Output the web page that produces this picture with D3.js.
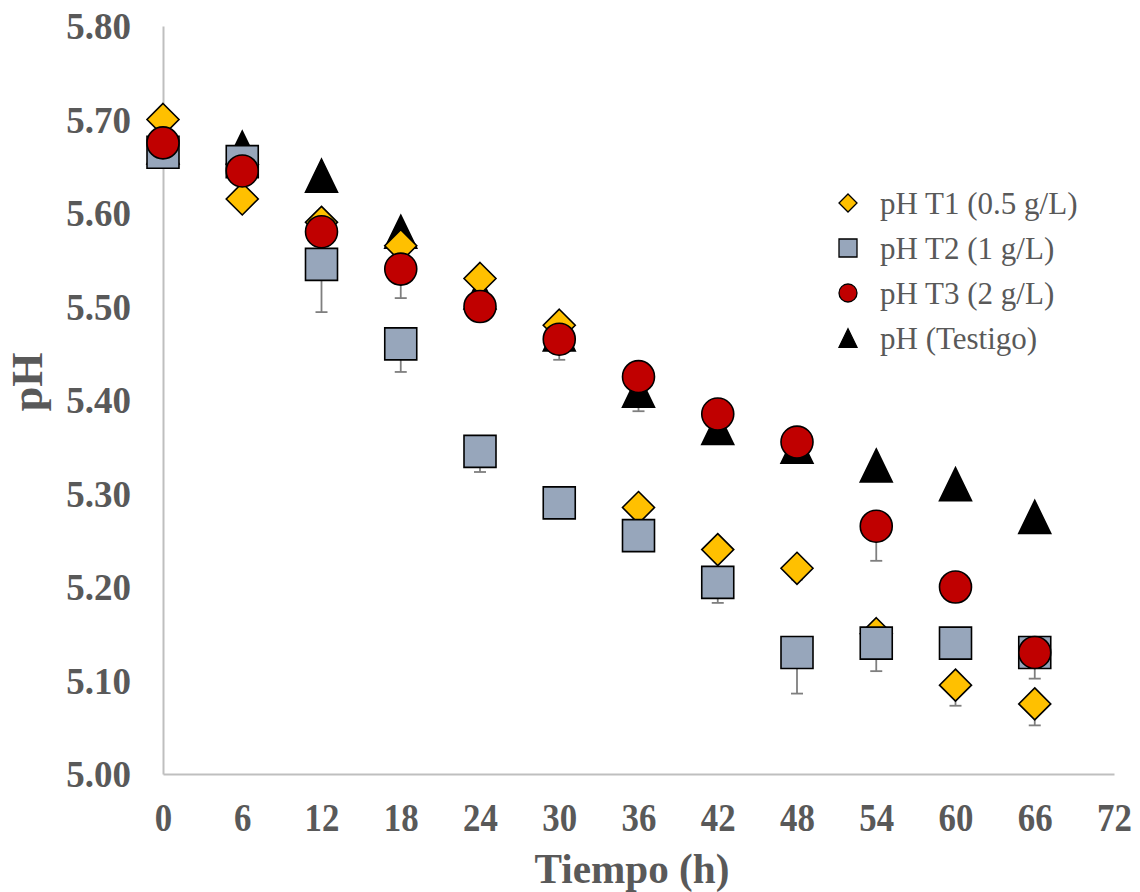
<!DOCTYPE html>
<html>
<head>
<meta charset="utf-8">
<script src="https://cdn.jsdelivr.net/npm/d3@7"></script>
<style>
  html, body { margin: 0; padding: 0; background: #fff; }
  svg { display: block; }
</style>
</head>
<body>
<div id="chart"></div>
<script>
// Sampling times (h)
const hours = [0, 6, 12, 18, 24, 30, 36, 42, 48, 54, 60, 66];

// pH readings per treatment
const phT1 = [5.700, 5.615, 5.590, 5.565, 5.530, 5.480, 5.285, 5.240, 5.220, 5.150, 5.095, 5.075];
const phT2 = [5.665, 5.655, 5.545, 5.460, 5.345, 5.290, 5.255, 5.205, 5.130, 5.140, 5.140, 5.130];
const phT3 = [5.675, 5.645, 5.580, 5.540, 5.500, 5.465, 5.425, 5.385, 5.355, 5.265, 5.200, 5.130];
const phTestigo = [5.670, 5.670, 5.640, 5.580, 5.515, 5.470, 5.410, 5.370, 5.350, 5.330, 5.310, 5.275];

// Lower error (standard deviation) per treatment
const errT1 = [0, 0, 0, 0, 0, 0, 0, 0, 0.012, 0, 0.022, 0.023];
const errT2 = [0, 0, 0.051, 0.030, 0.022, 0, 0, 0.022, 0.044, 0.030, 0, 0.028];
const errT3 = [0, 0, 0, 0.031, 0, 0.022, 0, 0, 0, 0.037, 0, 0];
const errTestigo = [0, 0, 0, 0, 0, 0, 0.022, 0, 0, 0, 0, 0];

// Series names and axis ticks
const seriesNames = ["pH T1 (0.5 g/L)", "pH T2 (1 g/L)", "pH T3 (2 g/L)", "pH (Testigo)"];
const xTicks = [0, 6, 12, 18, 24, 30, 36, 42, 48, 54, 60, 66, 72];
const yTicks = [5.00, 5.10, 5.20, 5.30, 5.40, 5.50, 5.60, 5.70, 5.80];

const W = 1140, H = 892;
const serif = "'Liberation Serif', 'Times New Roman', serif";
const textGray = "#595959";

// Marker shapes sized by half-width
const shapes = {
  diamond: { draw(ctx, r) { ctx.moveTo(0, -r); ctx.lineTo(r, 0); ctx.lineTo(0, r); ctx.lineTo(-r, 0); ctx.closePath(); } },
  square:  { draw(ctx, r) { ctx.rect(-r, -r, 2 * r, 2 * r); } },
  circle:  { draw(ctx, r) { ctx.moveTo(r, 0); ctx.arc(0, 0, r, 0, 2 * Math.PI); } },
  triangle:{ draw(ctx, r) { ctx.moveTo(0, -r * 1.03); ctx.lineTo(r, r * 1.03); ctx.lineTo(-r, r * 1.03); ctx.closePath(); } }
};

const series = [
  { name: seriesNames[0], values: phT1, err: errT1, shape: "diamond", fill: "#FFC000" },
  { name: seriesNames[1], values: phT2, err: errT2, shape: "square", fill: "#97A6BB" },
  { name: seriesNames[2], values: phT3, err: errT3, shape: "circle", fill: "#C00000" },
  { name: seriesNames[3], values: phTestigo, err: errTestigo, shape: "triangle", fill: "#000000" }
];

const svg = d3.select("#chart").append("svg")
  .attr("width", W).attr("height", H);

const x = d3.scaleLinear().domain([0, 72]).range([163, 1114]);
const y = d3.scaleLinear().domain([5.0, 5.8]).range([774, 26]);

// Axes (no tick marks, light gray lines)
const xAxis = svg.append("g").attr("transform", `translate(0,${y(5.0)})`)
  .call(d3.axisBottom(x).tickValues(xTicks).tickSize(0).tickPadding(0).tickFormat(d3.format("d")));
const yAxis = svg.append("g").attr("transform", `translate(${x(0)},0)`)
  .call(d3.axisLeft(y).tickValues(yTicks).tickSize(0).tickFormat(d3.format(".2f")));

[xAxis, yAxis].forEach(g => {
  g.select(".domain").attr("stroke", "#BFBFBF").attr("stroke-width", 2);
});

xAxis.selectAll(".tick text")
  .attr("fill", textGray)
  .attr("font-family", serif).attr("font-weight", "bold").attr("font-size", 41)
  .attr("dy", null).attr("y", 0)
  .attr("transform", function () {
    const t = d3.select(this.parentNode).attr("transform");
    return "translate(0,57) scale(0.85,1)";
  });

yAxis.selectAll(".tick text")
  .attr("fill", textGray)
  .attr("font-family", serif).attr("font-weight", "bold").attr("font-size", 37)
  .attr("x", 131 - x(0)).attr("dy", "0.34em");

// Axis titles
svg.append("text")
  .attr("x", 0).attr("y", 0)
  .attr("transform", `translate(632,883) scale(0.98,1)`)
  .attr("text-anchor", "middle")
  .attr("font-family", serif).attr("font-weight", "bold").attr("font-size", 42)
  .attr("fill", textGray)
  .text("Tiempo (h)");

svg.append("text")
  .attr("transform", "translate(42,382) rotate(-90)")
  .attr("text-anchor", "middle")
  .attr("font-family", serif).attr("font-weight", "bold").attr("font-size", 44)
  .attr("fill", textGray)
  .text("pH");

// Draw order: Testigo at the back, then T1, T2, T3 on top
const drawOrder = [3, 0, 1, 2];
const plot = svg.append("g");

drawOrder.forEach(i => {
  const s = series[i];
  const g = plot.append("g");
  const pts = hours.map((h, k) => ({ h, v: s.values[k], e: s.err[k] }));

  // Minus-direction error bars with caps
  const eb = g.selectAll(".err").data(pts.filter(p => p.e > 0)).join("g").attr("class", "err")
    .attr("stroke", "#7F7F7F").attr("stroke-width", 1.8);
  eb.append("line")
    .attr("x1", p => x(p.h)).attr("x2", p => x(p.h))
    .attr("y1", p => y(p.v)).attr("y2", p => y(p.v - p.e));
  eb.append("line")
    .attr("x1", p => x(p.h) - 6).attr("x2", p => x(p.h) + 6)
    .attr("y1", p => y(p.v - p.e)).attr("y2", p => y(p.v - p.e));

  g.selectAll(".mk").data(pts).join("path").attr("class", "mk")
    .attr("transform", p => `translate(${x(p.h)},${y(p.v)})`)
    .attr("d", d3.symbol(shapes[s.shape], 16))
    .attr("fill", s.fill)
    .attr("stroke", "#000").attr("stroke-width", 1.6)
    .attr("stroke-linejoin", "miter");
});

// Legend
const legend = svg.append("g").attr("transform", "translate(848,203)");
series.forEach((s, i) => {
  const row = legend.append("g").attr("transform", `translate(0,${i * 45})`);
  row.append("path")
    .attr("d", d3.symbol(shapes[s.shape], 9))
    .attr("fill", s.fill).attr("stroke", "#000").attr("stroke-width", 1.3);
  row.append("text")
    .attr("x", 32).attr("y", 0).attr("dy", "0.34em")
    .attr("font-family", serif).attr("font-size", 31)
    .attr("fill", textGray)
    .text(s.name);
});
</script>
</body>
</html>
